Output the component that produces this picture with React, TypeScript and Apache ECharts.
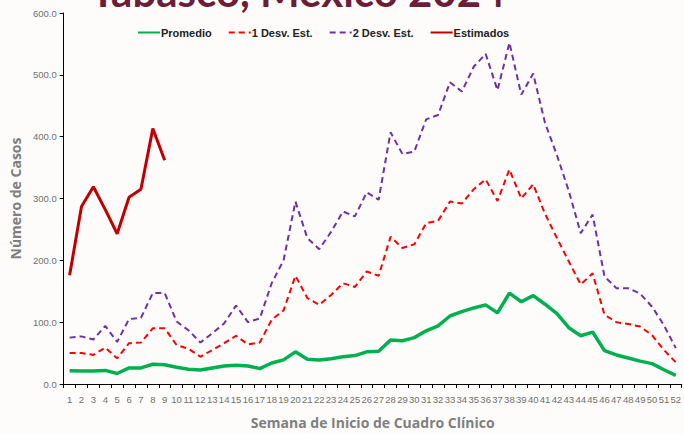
import React, { useEffect, useRef } from "react";
import * as echarts from "echarts";

const weeks = Array.from({ length: 52 }, (_, i) => String(i + 1));

const promedio = [21.5, 21, 21, 22, 17, 26, 26, 32, 31, 27, 24, 22.5, 26, 29, 30.5, 29, 25, 34, 39, 52, 40, 39, 41, 44, 46, 52, 53, 71, 70, 75, 86, 94, 110, 117, 123, 128, 115, 147, 133, 143, 129, 114, 91, 78, 84, 54, 47, 42, 37, 33, 23, 14];

const desv1 = [50, 50, 47, 59, 41.5, 66, 67, 90, 90, 63, 57, 44, 55, 66, 78, 64, 67, 104, 119, 175, 139, 128, 144, 163, 157, 182, 175, 238, 220, 226, 260, 264, 295, 292, 315, 331, 296, 347, 300, 323, 275, 236, 198, 161, 179, 112, 100, 97, 93, 79, 55, 35];

const desv2 = [75, 77, 72, 94, 68, 105, 107, 147, 147, 101, 87, 67, 82, 98, 127, 100, 106, 163, 200, 295, 236, 218, 246, 279, 271, 310, 298, 407, 372, 376, 428, 435, 488, 473, 513, 534, 475, 552, 468, 502, 422, 370, 312, 244, 274, 174, 155, 155, 146, 125, 95, 58];

const estimados = [176, 287, 319, 282, 243, 302, 315, 413, 362];

const yTicks = [0, 100, 200, 300, 400, 500, 600];

const narrow = "'Liberation Sans', Arial, sans-serif";

export default function App() {
  const ref = useRef<HTMLDivElement>(null);
  useEffect(() => {
    const chart = echarts.init(ref.current!, null, { renderer: "svg" });
    chart.setOption({
      animation: false,
      backgroundColor: "#fdfcfa",
      graphic: [
        {
          type: "text",
          x: 298,
          y: 12,
          style: {
            text: "Tabasco, México 2024",
            fontSize: 42,
            fontWeight: "bold",
            fontFamily: "Lato, 'Open Sans', sans-serif",
            fill: "#6b1d3a",
            align: "center",
            verticalAlign: "bottom",
          },
        },
      ],
      legend: {
        top: 22,
        left: 132,
        itemWidth: 22,
        itemHeight: 10,
        itemGap: 16,
        itemStyle: { opacity: 0 },
        textStyle: { fontSize: 11, fontWeight: "bold", color: "#222", fontFamily: narrow, padding: [0, 0, 0, -4] },
        data: ["Promedio", "1 Desv. Est.", "2 Desv. Est.", "Estimados"],
      },
      grid: { left: 60, right: -3, top: 13, bottom: 50 },
      xAxis: {
        type: "category",
        data: weeks,
        boundaryGap: true,
        name: "Semana de Inicio de Cuadro Clínico",
        nameLocation: "middle",
        nameGap: 31,
        nameTextStyle: { fontSize: 14, fontWeight: "bold", color: "#7f7f7f", fontFamily: "'Open Sans', sans-serif" },
        axisLine: { lineStyle: { color: "#000", width: 1 } },
        axisTick: { show: true, length: 4, alignWithLabel: false, lineStyle: { color: "#000" } },
        axisLabel: { interval: 0, fontSize: 9.5, color: "#6f6f6f", margin: 10, fontFamily: narrow },
      },
      yAxis: {
        type: "value",
        min: 0,
        max: 600,
        interval: 100,
        name: "Número de Casos",
        nameLocation: "middle",
        nameGap: 40,
        nameTextStyle: { fontSize: 14, fontWeight: "bold", color: "#7f7f7f", fontFamily: "'Open Sans', sans-serif" },
        axisLine: { show: true, lineStyle: { color: "#000", width: 1 } },
        axisTick: { show: true, length: 4, lineStyle: { color: "#000" } },
        splitLine: { show: false },
        axisLabel: {
          fontSize: 9.5,
          color: "#6f6f6f",
          margin: 7,
          fontFamily: narrow,
          formatter: (v: number) => (yTicks.includes(v) ? v.toFixed(1) : ""),
        },
      },
      series: [
        {
          name: "Promedio",
          type: "line",
          data: promedio,
          symbol: "none",
          lineStyle: { color: "#00b050", width: 3.5 },
          itemStyle: { color: "#00b050" },
        },
        {
          name: "1 Desv. Est.",
          type: "line",
          data: desv1,
          symbol: "none",
          lineStyle: { color: "#ff0000", width: 2, type: [6, 4] },
          itemStyle: { color: "#ff0000" },
        },
        {
          name: "2 Desv. Est.",
          type: "line",
          data: desv2,
          symbol: "none",
          lineStyle: { color: "#7030a0", width: 2, type: [6, 4] },
          itemStyle: { color: "#7030a0" },
        },
        {
          name: "Estimados",
          type: "line",
          data: estimados,
          symbol: "none",
          lineStyle: { color: "#c00000", width: 3 },
          itemStyle: { color: "#c00000" },
        },
      ],
    });
    return () => chart.dispose();
  }, []);
  return (
    <div
      ref={ref}
      style={{ position: "fixed", left: 0, top: 0, width: 684, height: 434 }}
    />
  );
}
